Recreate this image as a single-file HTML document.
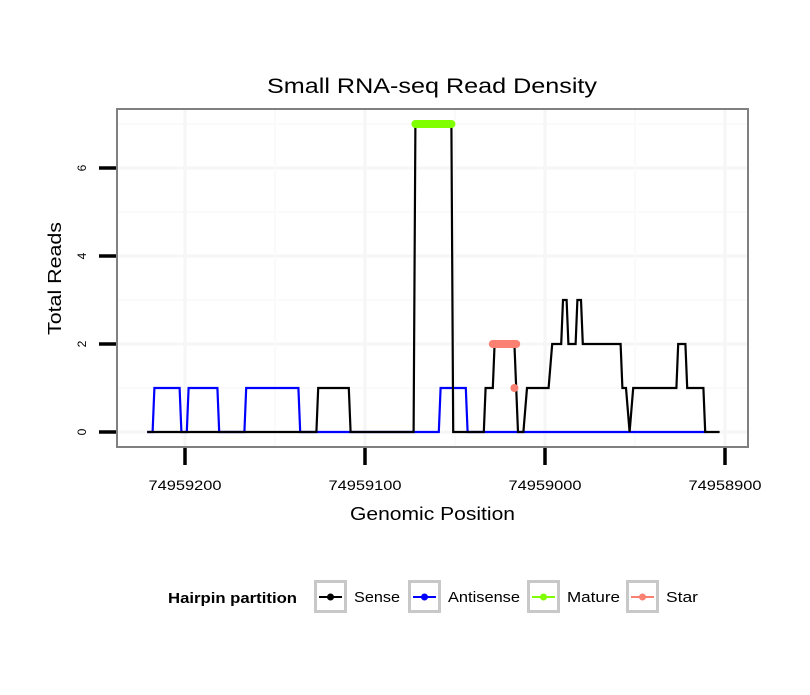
<!DOCTYPE html>
<html><head><meta charset="utf-8"><style>
body{margin:0;background:#fff;}
svg text{font-family:"Liberation Sans",sans-serif;}
</style></head><body>
<svg id="chart" width="810" height="690" xmlns="http://www.w3.org/2000/svg">
<rect width="810" height="690" fill="#fff"/>
<text x="267" y="93" font-size="21" textLength="330" lengthAdjust="spacingAndGlyphs">Small RNA-seq Read Density</text>
<g id="grid"></g>
<g id="series"></g>
<rect x="117" y="109" width="631" height="338" fill="none" stroke="#808080" stroke-width="2"/>
<g id="axes"></g>
<text x="350" y="520" font-size="18" textLength="165" lengthAdjust="spacingAndGlyphs">Genomic Position</text>
<text transform="translate(61,335) rotate(-90)" font-size="18" textLength="113" lengthAdjust="spacingAndGlyphs">Total Reads</text>
<g id="legend">
<text x="168" y="603" font-size="15" font-weight="bold" textLength="129" lengthAdjust="spacingAndGlyphs">Hairpin partition</text>
</g>
</svg>
<script>
const xTicks=[74959200,74959100,74959000,74958900];
const yTicks=[0,2,4,6];
const senseX=[74959221,74959127,74959126,74959109,74959108,74959073,74959072,74959052,74959051,74959034,74959033,74959029,74959028,74959017,74959015,74959012,74959010,74958998,74958996,74958991,74958990,74958988,74958987,74958983,74958982,74958980,74958979,74958958,74958957,74958955,74958953,74958951,74958927,74958926,74958922,74958921,74958912,74958911,74958903];
const senseY=[0,0,1,1,0,0,7,7,0,0,1,1,2,2,0,0,1,1,2,2,3,3,2,2,3,3,2,2,1,1,0,1,1,2,2,1,1,0,0];
const antiX=[74959221,74959218,74959217,74959203,74959202,74959199,74959198,74959182,74959181,74959167,74959166,74959137,74959136,74959059,74959058,74959044,74959043,74958911];
const antiY=[0,0,1,1,0,0,1,1,0,0,1,1,0,0,1,1,0,0];
const matureX=[74959072,74959052];
const matureY=[7,7];
const starX=[74959029,74959016];
const starY=[2,2];
const starDotX=[74959017];
const starDotY=[1];
const legendLabels=["Sense","Antisense","Mature","Star"];
const legendColors=["#000000","#0000ff","#7fff00","#fa8072"];
const legendWidths=[46,72,53,32];

const NS="http://www.w3.org/2000/svg";
const xs=v=>185+(74959200-v)*1.8;
const ys=v=>432-v*44;
function mk(tag,attrs,parent){const e=document.createElementNS(NS,tag);for(const k in attrs)e.setAttribute(k,attrs[k]);parent.appendChild(e);return e;}
const grid=document.getElementById('grid'),axes=document.getElementById('axes'),ser=document.getElementById('series');
mk('rect',{x:117,y:109,width:631,height:338,fill:'#fff'},grid);
for(let v=0;v<=7;v++){const g=mk('line',{x1:117,x2:748,y1:ys(v),y2:ys(v),stroke:v%2?'#fafafa':'#f6f6f6','stroke-width':v%2?2:3},grid);

}
for(let v=74959250;v>=74958850;v-=50){const x=xs(v);if(x<117||x>748)continue;const g=mk('line',{x1:x,x2:x,y1:109,y2:447,stroke:v%100?'#fafafa':'#f6f6f6','stroke-width':v%100?2:3},grid);

}
yTicks.forEach(v=>{const t=mk('line',{x1:99,x2:116,y1:ys(v),y2:ys(v),stroke:'#000','stroke-width':3.5},axes);


const l=mk('text',{transform:`translate(86,${ys(v)}) rotate(-90)`,'text-anchor':'middle','font-size':12},axes);l.textContent=v;

});
xTicks.forEach(v=>{const t=mk('line',{x1:xs(v),x2:xs(v),y1:448,y2:465,stroke:'#000','stroke-width':3.5},axes);


const l=mk('text',{x:xs(v)-36.5,y:490,'font-size':14,textLength:73,lengthAdjust:'spacingAndGlyphs'},axes);l.textContent=v;

});
function pts(X,Y){return X.map((x,i)=>xs(x)+','+ys(Y[i])).join(' ');}
const a=mk('polyline',{points:pts(antiX,antiY),fill:'none',stroke:'#0000ff','stroke-width':2.2},ser);


const s=mk('polyline',{points:pts(senseX,senseY),fill:'none',stroke:'#000','stroke-width':2.2},ser);


const m=mk('polyline',{points:pts(matureX,matureY),fill:'none',stroke:'#7fff00','stroke-width':8,'stroke-linecap':'round'},ser);


const st=mk('polyline',{points:pts(starX,starY),fill:'none',stroke:'#fa8072','stroke-width':8,'stroke-linecap':'round'},ser);


starDotX.forEach((x,i)=>{const c=mk('circle',{cx:xs(x),cy:ys(starDotY[i]),r:4,fill:'#fa8072'},ser);

});
const lg=document.getElementById('legend');
const keyX=[314,408,527,626];
legendLabels.forEach((lab,i)=>{const x=keyX[i];
const b=mk('rect',{x:x+1.5,y:581.5,width:30,height:30,fill:'#fff',stroke:'#c8c8c8','stroke-width':3},lg);


mk('line',{x1:x+5,x2:x+28,y1:597,y2:597,stroke:legendColors[i],'stroke-width':2},lg);
mk('circle',{cx:x+16.5,cy:597,r:3.5,fill:legendColors[i]},lg);
const t=mk('text',{x:x+40,y:602,'font-size':15,textLength:legendWidths[i],lengthAdjust:'spacingAndGlyphs'},lg);t.textContent=lab;

});
</script>
</body></html>
